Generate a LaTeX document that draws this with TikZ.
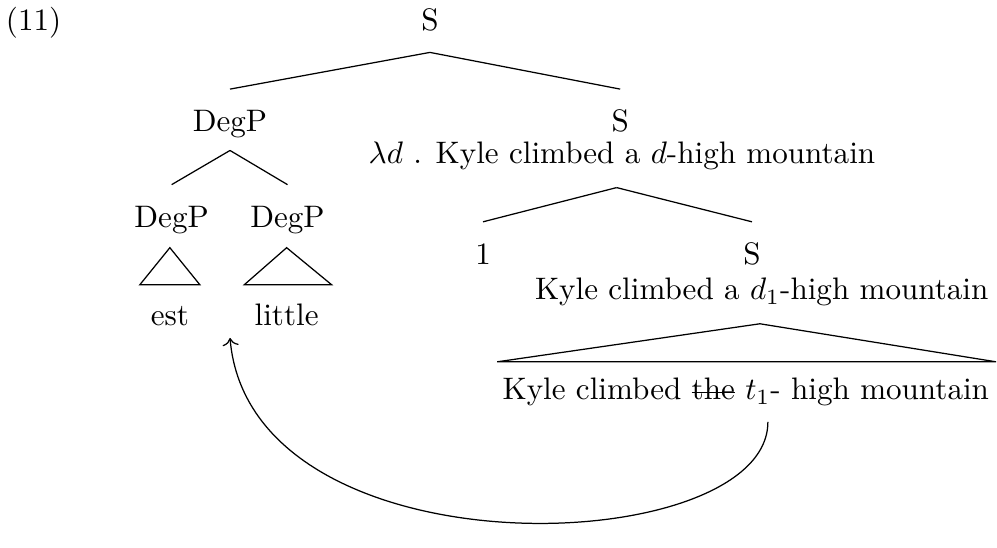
\documentclass[tikz,border=0pt]{standalone}
\usepackage{tikz}
\usetikzlibrary{positioning,arrows.meta,calc}

\newlength{\struckwd}
\newcommand{\struck}[1]{\settowidth{\struckwd}{#1}\rlap{\rule[0.5ex]{\struckwd}{0.4pt}}#1}

\tikzset{
    cat/.style={inner sep=0pt, anchor=base, text height=6.83pt, text depth=0pt},
}

\begin{document}
\begin{tikzpicture}
    \useasboundingbox (0,0) rectangle (11.27,-6.19);

    % example number
    \node[cat] (ex) at (0.38,-0.35) {(11)};

    % root
    \node[cat] (root) at (4.86,-0.35) {S};

    % DegP branch
    \node[cat] (degp) at (2.60,-1.49) {DegP};
    \node[cat] (degpL) at (1.94,-2.57) {DegP};
    \node[cat] (degpR) at (3.25,-2.57) {DegP};
    \node[cat] (est) at (1.92,-3.68) {est};
    \node[cat] (little) at (3.24,-3.68) {little};
    \draw (1.92,-2.80) -- (1.58,-3.22) -- (2.26,-3.22) -- cycle;
    \draw (3.24,-2.80) -- (2.76,-3.22) -- (3.75,-3.22) -- cycle;

    % S branch
    \node[cat] (sA) at (7.01,-1.49) {S};
    \node[cat] (semA) at (7.03,-1.85) {$\lambda d$ . Kyle climbed a $d$-high mountain};
    \node[cat] (idx) at (5.46,-2.99) {1};
    \node[cat] (sB) at (8.50,-2.99) {S};
    \node[cat] (semB) at (8.61,-3.39) {Kyle climbed a $d_1$-high mountain};
    \draw (8.59,-3.66) -- (5.62,-4.09) -- (11.26,-4.09) -- cycle;
    \node[cat] (surf) at (8.43,-4.52) {Kyle climbed \struck{the} $t_1$- high mountain};

    % branches
    \draw ([yshift=-6.7pt]root.south) -- ([yshift=6.7pt]degp.north);
    \draw ([yshift=-6.7pt]root.south) -- ([yshift=6.7pt]sA.north);
    \draw ([yshift=-5.8pt]degp.south) -- ([yshift=6.7pt]degpL.north);
    \draw ([yshift=-5.8pt]degp.south) -- ([yshift=6.7pt]degpR.north);
    \draw ([yshift=-7.5pt]$(semA.south)+(-0.06,0)$) -- ([yshift=6.7pt]idx.north);
    \draw ([yshift=-7.5pt]$(semA.south)+(-0.06,0)$) -- ([yshift=6.7pt]sB.north);

    % movement
    \coordinate (trace) at (8.68,-4.77);
    \coordinate (landing) at (2.60,-3.82);
    \draw[->] (trace) .. controls +(0,-1.56) and +(0.23,-2.73) .. (landing);
\end{tikzpicture}
\end{document}
